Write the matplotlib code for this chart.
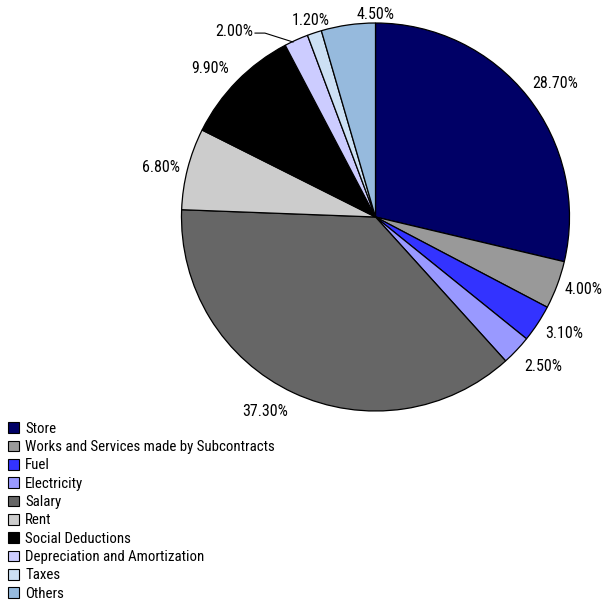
import matplotlib
matplotlib.use("Agg")
import matplotlib.pyplot as plt
from matplotlib.patches import Patch

plt.rcParams["font.family"] = ["Roboto Condensed", "DejaVu Sans"]

categories = ["Store", "Works and Services made by Subcontracts", "Fuel", "Electricity",
              "Salary", "Rent", "Social Deductions", "Depreciation and Amortization",
              "Taxes", "Others"]
shares = [28.7, 4.0, 3.1, 2.5, 37.3, 6.8, 9.9, 2.0, 1.2, 4.5]
colors = ["#000066", "#999999", "#3333ff", "#9999ff", "#666666", "#cccccc",
          "#000000", "#ccccff", "#cce0f4", "#96badd"]

# label positions in pie-radius units
label_xy = [(0.924, 0.686), (1.072, -0.376), (0.972, -0.603), (0.863, -0.773),
            (-0.570, -1.005), (-1.108, 0.253), (-0.853, 0.768), (-0.729, 0.954),
            (-0.332, 1.015), (0.0, 1.046)]

W, H = 603, 600
cx, cy, r = 375.5, 217, 194
fig = plt.figure(figsize=(W / 100, H / 100), dpi=100)
ax = fig.add_axes([(cx - r) / W, (H - cy - r) / H, 2 * r / W, 2 * r / H])
ax.pie(shares, colors=colors, startangle=90, counterclock=False, radius=1,
       wedgeprops=dict(edgecolor="black", linewidth=0.9))
ax.set_xlim(-1, 1); ax.set_ylim(-1, 1)
ax.axis("off")

for v, (x, y) in zip(shares, label_xy):
    ax.text(x, y, f"{v:.2f}%", ha="center", va="center", fontsize=11.5, clip_on=False)

# leader line for the small depreciation slice
ax.plot([-0.621, -0.57, -0.425], [0.948, 0.948, 0.902], color="black", lw=0.8, clip_on=False)

handles = [Patch(facecolor=c, edgecolor="black", linewidth=0.8) for c in colors]
fig.legend(handles, categories, loc="upper left", bbox_to_anchor=(0.003, 0.307),
           frameon=False, fontsize=10.75, handlelength=0.72, handleheight=0.72,
           handletextpad=0.45, labelspacing=0.29, borderaxespad=0)

fig.savefig("out.png", dpi=100)
